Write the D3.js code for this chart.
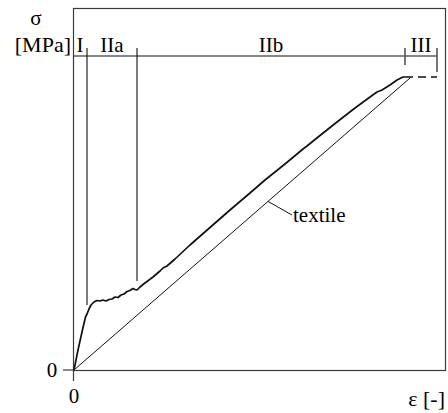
<!DOCTYPE html>
<html>
<head>
<meta charset="utf-8">
<script src="https://cdn.jsdelivr.net/npm/d3@7"></script>
<style>
  body { margin: 0; background: #fff; }
</style>
</head>
<body>
<svg id="chart" width="448" height="413" font-family="'Liberation Serif', 'Times New Roman', 'DejaVu Serif', serif" font-size="21"></svg>
<script>
// measured curve (strain in arbitrary units, stress in MPa-ish units)
var strain = [0, 0.04, 0.08, 0.115, 0.13, 0.15, 0.17, 0.20, 0.23, 0.26, 0.29, 0.32, 0.35, 0.38, 0.41,
  0.44, 0.47, 0.50, 0.53, 0.56, 0.59, 0.61, 0.63, 0.66, 0.69, 0.73, 0.79, 0.86, 0.89, 0.93,
  1.01, 1.16, 1.36, 1.56, 1.76, 1.91, 2.11, 2.29, 2.33, 2.46, 2.63, 2.81, 2.96, 3.03, 3.08,
  3.16, 3.23, 3.29, 3.31];
var stress = [0, 2.0, 3.8, 5.3, 5.6, 6.1, 6.5, 6.8, 6.95, 6.9, 7.0, 6.9, 7.05, 7.1, 7.3,
  7.25, 7.5, 7.6, 7.85, 7.95, 8.15, 8.05, 8.0, 8.3, 8.55, 8.85, 9.3, 9.9, 10.2, 10.4,
  11.1, 12.5, 14.25, 16.0, 17.7, 19.0, 20.6, 22.1, 22.4, 23.45, 24.8, 26.2, 27.3, 27.8, 28.0,
  28.5, 29.0, 29.3, 29.3];

// textile alone
var textileStrain = [0, 3.36];
var textileStress = [0, 29.2];

// zones
var zoneNames = ["I", "IIa", "IIb", "III"];
var zoneEdges = [0, 0.13, 0.63, 3.31, 3.63];
var zoneLineEnds = [6.5, 8.9, 30.5, 29.8]; // lower end of each boundary line
var dashStress = 29.3;

var svg = d3.select("#chart"),
    margin = {top: 8, right: 2, bottom: 43, left: 74},
    width = +svg.attr("width") - margin.left - margin.right,
    height = +svg.attr("height") - margin.top - margin.bottom;

var x = d3.scaleLinear().domain([0, width / 100]).range([margin.left, margin.left + width]);
var y = d3.scaleLinear().domain([0, height / 10]).range([margin.top + height, margin.top]);

var frameColor = "#3a3a3a";

// frame
svg.append("rect")
   .attr("x", x(0) - 0.5).attr("y", y(y.domain()[1]) + 0.5)
   .attr("width", x(x.domain()[1]) - x(0)).attr("height", y(0) - y(y.domain()[1]))
   .attr("fill", "none").attr("stroke", frameColor).attr("stroke-width", 1.2);

// origin ticks
svg.append("line")
   .attr("x1", x(0) - 11).attr("x2", x(0)).attr("y1", y(0)).attr("y2", y(0))
   .attr("stroke", frameColor).attr("stroke-width", 1.2);
svg.append("line")
   .attr("x1", x(0) - 0.5).attr("x2", x(0) - 0.5).attr("y1", y(0)).attr("y2", y(0) + 11)
   .attr("stroke", frameColor).attr("stroke-width", 1.2);

svg.append("text").attr("x", x(0) - 22).attr("y", y(0) + 7).attr("text-anchor", "middle").text("0");
svg.append("text").attr("x", x(0)).attr("y", y(0) + 33).attr("text-anchor", "middle").text("0");

// axis titles
svg.append("text").attr("x", 36).attr("y", 25).attr("text-anchor", "middle").text("σ");
svg.append("text").attr("x", 71).attr("y", 52).attr("text-anchor", "end")
   .attr("font-size", 22).text("[MPa]");
svg.append("text").attr("x", 445).attr("y", 406).attr("text-anchor", "end")
   .attr("font-size", 22).text("ε [-]");

// zone band line
var bandY = 31.4, tickTop = 32.2;
svg.append("line")
   .attr("x1", x(0)).attr("x2", x(zoneEdges[4]))
   .attr("y1", y(bandY)).attr("y2", y(bandY))
   .attr("stroke", "#111").attr("stroke-width", 1.2);

svg.selectAll(".zoneLine")
   .data(zoneEdges.slice(1))
   .enter().append("line")
   .attr("class", "zoneLine")
   .attr("x1", function(d){ return x(d); })
   .attr("x2", function(d){ return x(d); })
   .attr("y1", y(tickTop))
   .attr("y2", function(d, i){ return y(zoneLineEnds[i]); })
   .attr("stroke", function(d, i){ return i >= 2 ? "#555" : "#111"; })
   .attr("stroke-width", function(d, i){ return i >= 2 ? 1.6 : 1.1; });

svg.selectAll(".zoneLabel")
   .data(zoneNames)
   .enter().append("text")
   .attr("class", "zoneLabel")
   .attr("x", function(d, i){
     if (i == 0) return x(0) + 6;
     return (x(zoneEdges[i]) + x(zoneEdges[i + 1])) / 2;
   })
   .attr("y", 52)
   .attr("text-anchor", "middle")
   .text(function(d){ return d; });

// textile line
var pts = textileStrain.map(function(s, i){ return [s, textileStress[i]]; });
var line = d3.line()
  .x(function(d){ return x(d[0]); })
  .y(function(d){ return y(d[1]); });

svg.append("path")
   .attr("d", line(pts))
   .attr("fill", "none").attr("stroke", "#111").attr("stroke-width", 1);

// composite curve
var curve = strain.map(function(s, i){ return [s, stress[i]]; });
svg.append("path")
   .attr("d", line(curve))
   .attr("fill", "none").attr("stroke", "#111").attr("stroke-width", 1.7)
   .attr("stroke-linejoin", "round");

// dashed continuation
svg.append("line")
   .attr("x1", x(zoneEdges[3])).attr("x2", x(zoneEdges[4]))
   .attr("y1", y(dashStress)).attr("y2", y(dashStress))
   .attr("stroke", "#111").attr("stroke-width", 1.5)
   .attr("stroke-dasharray", "8,5");

// textile label with leader
var leaderStrain = 1.94;
var leaderStress = textileStress[1] / textileStrain[1] * leaderStrain;
svg.append("line")
   .attr("x1", x(leaderStrain)).attr("y1", y(leaderStress))
   .attr("x2", x(2.18)).attr("y2", y(15.5))
   .attr("stroke", "#111").attr("stroke-width", 1);
svg.append("text").attr("x", x(2.19)).attr("y", y(14.8)).text("textile");
</script>
</body>
</html>
